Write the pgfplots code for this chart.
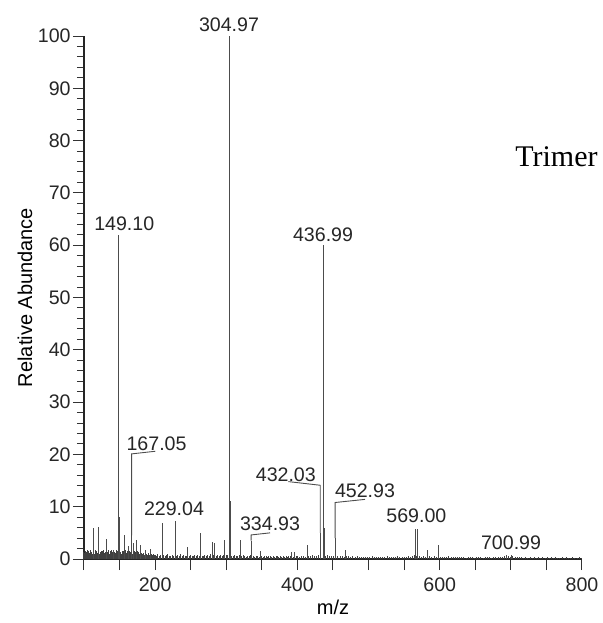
\documentclass[border=0pt]{standalone}
\usepackage{pgfplots}
\pgfplotsset{compat=1.18}
\usepackage{fontspec}
\setmainfont{Liberation Sans}
\newfontfamily\timesfont{Liberation Serif}
\begin{document}
\begin{tikzpicture}
\useasboundingbox (-42pt,-32pt) rectangle (259pt,279.5pt);
\begin{axis}[
  at={(0,0)}, anchor=south west,
  scale only axis, width=249pt, height=261.5pt,
  xmin=100, xmax=800, ymin=0, ymax=100,
  axis lines*=left,
  axis line style={black!85, line width=0.65pt},
  tick align=outside,
  xtick={100,150,...,800},
  xticklabels={{},{},200,{},{},{},400,{},{},{},600,{},{},{},800},
  ytick={0,10,...,100},
  minor ytick={0,2,...,100},
  major tick length=5.5pt, minor tick length=3.5pt,
  tick style={black!80, line width=0.5pt},
  /pgf/number format/assume math mode=true,
  tick label style={font=\fontsize{9.8}{12}\selectfont, text=black!85},
  yticklabel style={inner sep=1pt},
  xticklabel style={inner sep=3.5pt},
  xlabel={m/z}, ylabel={Relative Abundance},
  label style={font=\fontsize{10}{12}\selectfont, text=black!85},
  every axis x label/.style={at={(axis description cs:0.5,0)}, yshift=-24pt, anchor=center},
  every axis y label/.style={at={(axis description cs:0,0.5)}, xshift=-29.5pt, anchor=center, rotate=90},
  clip=false,
]
% baseline noise
\addplot[ycomb, no marks, black!75, line width=0.5pt] coordinates {
(100,1.4)(101,1.1)(102,1.6)(103,0.9)(104,1.3)(105,1.7)(106,1.0)(107,1.5)(108,1.2)(109,1.8)
(110,1.1)(111,1.4)(112,0.9)(113,1.6)(114,1.3)(115,1.0)(116,1.7)(117,1.2)(118,1.5)(119,1.1)
(120,1.4)(121,1.8)(122,1.0)(123,1.3)(124,1.6)(125,0.9)(126,1.5)(127,1.2)(128,1.7)(129,1.1)
(130,1.4)(131,1.0)(132,1.6)(133,1.3)(134,1.8)(135,1.2)(136,0.9)(137,1.5)(138,1.1)(139,1.7)
(140,1.3)(141,1.0)(142,1.6)(143,1.4)(144,1.2)(145,1.8)(146,1.1)(147,1.5)(148,0.9)(149,1.3)
(150,1.7)(151,1.2)(152,1.4)(153,1.0)(154,1.6)(155,1.1)(156,1.5)(157,1.3)(158,1.8)(159,1.0)
(160,1.2)(161,1.6)(162,1.4)(163,0.9)(164,1.5)(165,1.1)(166,1.3)(167,1.7)(168,1.0)(169,1.4)
(170,1.2)(171,1.6)(172,1.1)(173,1.3)(174,0.9)(175,1.5)(176,1.2)(177,1.4)(178,1.0)(179,1.3)
(180,1.1)(181,1.2)(182,0.9)(183,1.0)(184,1.2)(185,0.8)(186,1.1)(187,0.9)(188,1.0)(189,0.8)
(190,1.1)(191,0.9)(192,0.7)(193,1.0)(194,0.8)(195,0.9)(196,0.7)(197,0.8)(198,1.0)(199,0.7)
(200,0.8)(202,0.6)(204,0.9)(206,0.5)(208,0.7)(210,0.6)(212,0.8)(214,0.5)(216,0.7)(218,0.9)
(220,0.6)(222,0.5)(224,0.8)(226,0.6)(228,0.7)(230,0.5)(232,0.8)(234,0.6)(236,0.9)(238,0.5)
(240,0.7)(242,0.6)(244,0.5)(246,0.8)(248,0.6)(250,0.7)(252,0.5)(254,0.6)(256,0.8)(258,0.5)
(260,0.7)(262,0.6)(264,0.8)(266,0.5)(268,0.6)(270,0.7)(272,0.5)(274,0.8)(276,0.6)(278,0.9)
(280,0.7)(282,0.8)(284,0.6)(286,0.5)(288,0.7)(290,0.6)(292,0.8)(294,0.5)(296,0.7)(298,0.6)
(300,0.8)(302,0.7)(304,0.9)(306,0.8)(308,0.6)(310,0.5)(312,0.7)(314,0.6)(316,0.5)(318,0.7)
(320,0.6)(322,0.5)(324,0.7)(326,0.6)(328,0.4)(330,0.6)(332,0.5)(334,0.7)(336,0.5)(338,0.6)
(340,0.4)(342,0.6)(344,0.5)(346,0.4)(348,0.6)(350,0.5)(352,0.4)(354,0.6)(356,0.5)(358,0.4)
(360,0.5)(362,0.6)(364,0.4)(366,0.5)(368,0.4)(370,0.6)(372,0.5)(374,0.4)(376,0.5)(378,0.3)
(380,0.5)(382,0.4)(384,0.6)(386,0.4)(388,0.5)(390,0.6)(392,0.5)(394,0.4)(396,0.6)(398,0.5)
(400,0.5)(403,0.4)(406,0.6)(409,0.5)(412,0.4)(415,0.6)(418,0.5)(421,0.7)(424,0.5)(427,0.6)
(430,0.7)(433,0.8)(436,0.7)(439,0.6)(442,0.7)(445,0.5)(448,0.6)(451,0.5)(454,0.7)(457,0.6)
(460,0.5)(463,0.6)(466,0.4)(469,0.6)(472,0.5)(475,0.4)(478,0.5)(481,0.3)(484,0.5)(487,0.4)
(490,0.3)(493,0.4)(496,0.3)(499,0.4)(502,0.3)(505,0.5)(508,0.3)(511,0.4)(514,0.3)(517,0.4)
(520,0.3)(523,0.4)(526,0.5)(529,0.3)(532,0.4)(535,0.3)(538,0.4)(541,0.5)(544,0.3)(547,0.4)
(550,0.3)(553,0.4)(556,0.5)(559,0.4)(562,0.6)(565,0.7)(568,0.6)(571,0.5)(574,0.4)(577,0.5)
(580,0.4)(583,0.5)(586,0.6)(589,0.4)(592,0.5)(595,0.4)(598,0.5)(601,0.4)(604,0.3)(607,0.4)
(610,0.3)(613,0.5)(616,0.3)(619,0.4)(622,0.3)(625,0.4)(628,0.3)(631,0.4)(634,0.3)(637,0.2)
(640,0.3)(643,0.4)(646,0.3)(649,0.2)(652,0.3)(655,0.4)(658,0.3)(661,0.2)(664,0.3)(667,0.4)
(670,0.3)(673,0.2)(676,0.3)(679,0.4)(682,0.3)(685,0.4)(688,0.3)(691,0.5)(694,0.4)(697,0.5)
(700,0.4)(703,0.5)(706,0.4)(709,0.3)(712,0.4)(715,0.3)(718,0.2)(721,0.3)(724,0.2)(727,0.3)
(730,0.2)(733,0.3)(736,0.2)(739,0.3)(742,0.2)(745,0.3)(748,0.2)(751,0.3)(754,0.2)(757,0.3)
(760,0.2)(763,0.3)(766,0.2)(769,0.2)(772,0.3)(775,0.2)(778,0.3)(781,0.2)(784,0.2)(787,0.3)
(790,0.2)(793,0.2)(796,0.3)(799,0.2)
};
% peaks
\addplot[ycomb, no marks, black!70, line width=0.5pt] coordinates {
(114,5.9)(120.5,6.2)(132,3.8)(141,1.8)(149.10,62)(150.1,8.0)(157.5,4.6)(162,2.4)
(167.05,4.5)(169,3.0)(174,3.6)(180,2.7)(186,1.8)(193,2.0)(210.5,6.9)(229.04,7.2)
(246,2.3)(264,5.0)(281,3.3)(283,3.0)(298,3.6)(304.97,100)(306,11)(320,3.6)
(334.93,3.5)(348,1.5)(392,1.4)(396.5,1.3)(414,2.7)(432.03,5.0)(436.99,60)(438.5,6)
(452.93,4.0)(467.5,1.7)(566,5.7)(569.00,5.7)(583.5,1.7)(598.5,2.7)(694.5,0.8)(700.99,0.8)
};
% leader lines
\draw[black!70, line width=0.45pt] (axis cs:167.05,4.5) -- (axis cs:167.05,20.1) -- (axis cs:200.2,20.6);
\draw[black!70, line width=0.45pt] (axis cs:432.03,5.0) -- (axis cs:432.03,14.1) -- (axis cs:387.2,14.8);
\draw[black!70, line width=0.45pt] (axis cs:452.93,4.0) -- (axis cs:452.93,10.8) -- (axis cs:495,11.4);
\draw[black!70, line width=0.45pt] (axis cs:334.93,3.5) -- (axis cs:334.93,4.6) -- (axis cs:361.5,5.0);
% peak labels
\begin{scope}[every node/.style={anchor=base, inner sep=0pt, font=\fontsize{9.8}{12}\selectfont, text=black!85}]
\node at (axis cs:303.8,100.8) {304.97};
\node at (axis cs:156.6,62.8) {149.10};
\node at (axis cs:436.0,60.7) {436.99};
\node at (axis cs:202.0,20.8) {167.05};
\node at (axis cs:226.5,8.4) {229.04};
\node at (axis cs:361.5,5.4) {334.93};
\node at (axis cs:383.7,14.8) {432.03};
\node at (axis cs:495.0,11.8) {452.93};
\node at (axis cs:567.2,7.0) {569.00};
\node at (axis cs:700.3,1.9) {700.99};
\end{scope}
\node[anchor=base west, inner sep=0pt, font=\timesfont\fontsize{15}{18}\selectfont] at (axis cs:705.8,75.0) {Trimer};
\end{axis}
\end{tikzpicture}
\end{document}
